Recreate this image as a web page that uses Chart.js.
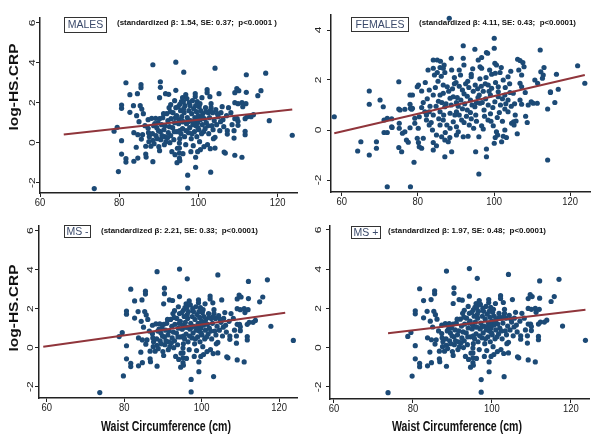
<!DOCTYPE html>
<html><head><meta charset="utf-8">
<script src="https://cdn.jsdelivr.net/npm/chart.js@4/dist/chart.umd.min.js"></script>
<style>
html,body{margin:0;padding:0;background:#fff;}
#wrap{position:relative;width:600px;height:446px;overflow:hidden;background:#fff;}
canvas{position:absolute;display:block;}
</style></head><body><div id="wrap">
<canvas id="c1" width="300" height="220" style="left:0;top:0"></canvas>
<canvas id="c2" width="300" height="220" style="left:300px;top:0"></canvas>
<canvas id="c3" width="300" height="226" style="left:0;top:220px"></canvas>
<canvas id="c4" width="300" height="226" style="left:300px;top:220px"></canvas>
</div>
<script>
// ---------------- DATA ----------------
const xTicks = [60, 80, 100, 120];
const yTicksA = [-2, 0, 2, 4, 6];
const yTicksF = [-2, 0, 2, 4];
const panelLabels = ['MALES', 'FEMALES', 'MS -', 'MS +'];
const statTexts = [
  '(standardized \u03b2: 1.54, SE: 0.37;  p<0.0001 )',
  '(standardized \u03b2: 4.11, SE: 0.43;  p<0.0001)',
  '(standardized \u03b2: 2.21, SE: 0.33;  p<0.0001)',
  '(standardized \u03b2: 1.97, SE: 0.48;  p<0.0001)'
];
const yTitle = 'log-HS.CRP';
const xTitle = 'Waist Circumference (cm)';

// waist (cm), log-HS.CRP  (males / MS- / MS+ panels share the same cloud)
const malesPoints = [
[73.7,-2.3],[79.8,-1.45],[79.5,0.77],[78.7,0.57],[80.6,0.1],[80.6,-0.57],[81.7,-0.8],[81.7,-0.97],[83.7,-0.93],[84.7,-0.77],[83.7,0.5],[84.7,0.4],[84.3,-0.23],[85.6,0.18],[85.9,0.4],[86.7,-0.18],[86.7,-0.57],[86.8,-0.72],[88,-0.18],[88.5,-0.95],[88.5,0.12],[90.2,-0.4],[90,-0.2],
[80.6,1.72],[80.6,1.88],[81.7,3.0],[82.7,2.4],[82.7,1.52],[83.6,1.85],[84.6,2.45],[84.4,1.35],[85.5,2.9],[85.5,2.75],[85.3,1.85],[85.7,1.68],[86.1,1.45],[88.5,3.9],[90.4,3.05],[90.4,2.77],[90.2,2.25],[91.7,2.45],[92.5,2.42],[94.3,4.03],[94.3,2.62],[96.3,3.53],[95.3,1.92],[95.7,2.05],[96,2.25],
[87.3,1.15],[87.3,0.72],[87.4,0.5],[87.6,0.3],[87.5,0.05],[88.2,1.22],[88.7,0.85],[88.4,0.45],[88.8,-0.05],[89.2,1.22],[89.5,0.75],[89.3,0.35],[89.8,1.0],[90.2,1.2],[90.4,0.55],[90.5,0.15],[90.7,0.9],[91,1.25],[91.3,0.65],[91.5,0.3],[91.8,0.05],[92,1.45],[92.3,1.1],[92.4,0.5],[92.7,0.8],[93,0.35],[93.1,1.2],[93.3,-0.45],[93.5,0.75],[93.6,1.5],[93.8,0.15],[94,1.0],[92.2,0.25],[91.2,1.45],[89.9,0.6],[93,1.9],[94,2.1],[92.6,1.75],[96.8,2.4],
[94.3,1.75],[94.5,1.35],[94.6,0.55],[94.7,-0.28],[94.6,-1.0],[94.9,1.8],[95,0.95],[95.1,1.15],[95.2,-0.52],[95.2,-0.77],[95.3,-0.9],[95.3,0.6],[95.5,1.6],[95.3,0.2],[95.2,-0.02],[95.2,-0.27],[95.8,1.3],[96,0.7],[96.2,1.05],[96.4,1.5],[96.5,0.3],[96.6,1.85],[96.8,-0.1],[97,0.95],[97.2,1.25],[97.3,-1.63],[97.3,-2.27],[97.5,0.5],[97.7,2.0],[97.6,1.6],[97.8,0.75],[98,1.1],[98.2,0.2],[98.3,1.45],[98.5,2.1],[98.6,0.9],[98.7,-0.15],[98.8,1.7],[99,0.55],[99.1,1.25],[99.2,2.45],[99.2,2.3],[99.3,-0.73],[99.3,-1.23],[99.4,0.85],[99.5,1.55],[99.6,0.3],[99.7,2.05],[99.8,1.0],[100,1.35],[100.1,0.65],[100.2,1.8],[100.3,0.05],[100.5,1.15],[100.6,1.6],[100.8,0.45],[101,0.9],[101.1,1.45],[101.4,-0.2],[101.5,1.2],[101.7,0.7],[101.8,1.75],[102,1.0],[102.2,2.65],[102.2,2.5],[102.3,-0.1],[102.5,1.5],[102.6,0.45],[102.8,1.25],[103.1,-1.48],[103.2,1.95],[103.2,1.75],[103.4,0.85],[103.6,1.5],[103.8,0.2],[104,1.1],[104.2,3.73],[104.2,0.27],[104.2,-0.27],[104.4,1.65],[104.6,0.9],[105,1.3],[105.2,2.45],[105.4,0.6],[105.7,1.5],[106,1.8],[106.2,1.15],[106.5,-0.47],[106.8,-0.52],[107.3,0.6],[107.3,0.43],[107.1,1.35],[100.5,-0.35],[103,-0.3],[99.8,-0.45],
[89,0.95],[90.8,0.35],[91.6,0.85],[92.9,1.55],[93.9,0.55],[94.2,1.25],[95.6,0.45],[95.9,1.05],[96.3,1.7],[96.9,0.6],[97.4,1.05],[97.9,1.85],[98.4,0.45],[98.9,1.05],[99.3,1.85],[99.6,1.15],[99.9,0.75],[100.4,1.95],[100.9,1.3],[101.3,0.55],[101.9,1.55],[102.4,0.85],[103,1.6],[103.7,0.65],[104.8,1.45],[105.6,1.05],[106.4,0.8],[107.6,1.75],[96.2,2.05],[97.1,2.2],[98.1,-0.45],[96.1,-0.55],[94.1,-0.6],[92.8,0.0],[91.4,-0.1],[89.6,0.2],[86.5,0.85],[85,1.05],[100.9,2.25],[102.9,2.3],
[109.2,2.5],[109.7,2.7],[110.2,2.6],[112.1,3.4],[112.1,2.52],[115.8,2.6],[115,2.35],[117,3.48],[109.2,2.0],[110,1.95],[111,2.0],[112,1.95],[109.2,1.2],[109.8,1.2],[110,1.07],[110,0.87],[109,0.6],[109,0.23],[109.2,-0.63],[111,-0.73],[111.8,0.57],[111.8,0.4],[112.3,1.3],[111.8,1.2],[113.3,1.3],[113.9,1.4],[117.9,1.1],[123.7,0.37],[108.2,1.5],[111.2,1.8],[108.5,0.9]
];

const femalesPoints = [
[58.06,0.53],[64.2,-0.84],[65.04,-0.47],[67.25,1.56],[67.25,1.03],[67.25,-1.0],[69.13,-0.47],[69.13,-0.73],[70.08,1.2],[70.92,0.93],[71.13,0.4],[71.13,-0.1],[71.97,-0.1],[71.97,0.47],[73.13,0.45],[73.13,0.13],[71.97,-2.27],[73.23,0.1],[75.0,1.93],[75.0,0.84],[75.12,0.27],[75.12,0.07],[75.96,-0.13],[76.59,-0.07],[75.0,-0.7],[75.75,-0.87],[77.01,-0.4],[77.48,-0.49],[77.95,0.09],[78.06,0.87],[78.58,0.87],[78.06,-2.27],[79.0,-1.29],[75.33,0.8],[76.59,0.83],[78.37,0.83],[77.95,1.03],[77.95,1.4],[78.58,1.4],[79.85,1.73],[80.16,1.8],[81.0,1.56],[79.2,0.47],[80.37,0.53],[79.2,0.27],[80.11,0.07],[79.85,-0.33],[80.16,-0.5],[80.37,-0.67],[81.0,-0.73],[81.42,-0.33],[81.42,1.1],[81.84,0.73],
[82.26,0.4],[82.99,0.2],[83.84,0.0],[84.89,-0.2],[84.05,-0.5],[84.89,-0.63],[84.05,-0.8],[86.25,-0.27],[87.09,-0.4],[87.98,-0.47],[87.09,-1.07],[88.88,-0.87],[90.14,-0.2],[90.61,-0.07],[85.83,0.2],[86.67,0.4],[87.62,0.2],[88.46,0.07],[89.3,0.33],[90.14,0.13],[82.26,0.6],[82.99,0.73],[84.05,0.6],[85.83,0.73],[86.78,0.6],[88.46,0.67],[90.14,0.73],[89.72,0.6],[83.2,0.95],[84.78,0.95],[87.09,0.93],[88.77,1.0],[90.14,1.1],[84.05,1.4],[85.83,1.4],[86.67,1.47],[88.46,1.27],[89.3,1.33],[86.67,1.8],[87.72,1.73],[84.05,2.8],[85.1,2.8],[85.94,2.75],[82.68,2.4],[84.05,2.47],[85.83,2.5],[86.67,2.47],[84.36,2.2],[85.1,2.3],[86.15,2.15],[87.09,2.3],[88.88,2.4],[88.25,4.47],[88.77,2.87],[90.87,2.4],[85.41,1.15],[82.47,1.25],[81.95,1.9],[81.0,0.9],
[91.92,3.37],[91.92,2.87],[94.97,3.23],[98.01,3.1],[96.75,2.9],[95.86,2.8],[100.06,3.67],[100.06,3.27],[98.33,3.07],[94.02,2.23],[94.02,2.13],[96.33,2.53],[96.75,2.47],[98.85,2.4],[99.38,2.23],[100.22,2.67],[100.64,2.6],[100.32,2.27],
[90.03,1.9],[90.87,1.75],[91.71,1.6],[92.13,1.45],[92.97,1.35],[93.81,1.2],[90.35,1.3],[91.29,1.2],[92.55,1.85],[93.39,1.7],[94.55,1.55],[95.07,1.8],[95.7,1.65],[96.12,1.4],[94.23,1.0],[95.39,1.1],[96.33,1.07],[94.97,0.93],[96.65,1.75],[97.17,1.55],[97.7,1.85],[98.48,1.8],[99.38,1.67],[101.11,1.73],[101.11,1.53],[101.11,1.33],[98.48,1.0],[100.22,1.13],[97.8,1.25],[99.06,1.4],[97.38,0.8],
[90.87,0.6],[91.5,0.4],[92.13,0.3],[92.76,0.55],[93.5,0.2],[94.02,0.45],[94.65,0.07],[95.39,0.35],[91.71,0.85],[92.97,0.8],[91.92,-0.27],[93.18,-0.25],[96.02,-0.27],[95.18,-0.87],[96.02,-1.76],[96.75,0.17],[97.17,0.04],[98.01,-0.76],[98.01,-1.07],[98.43,0.4],[99.06,0.65],[99.8,0.17],[100.64,-0.07],[100.06,-0.53],[100.32,-0.3],[100.95,-0.2],[99.69,0.9],[100.85,0.5],
[83,1.6],[84.6,1.7],[85.3,1.95],[86.3,1.1],[87.4,1.05],[88.1,1.55],[89.1,1.65],[89.6,2.1],[90.6,0.95],[91.2,2.2],[92.3,1.05],[93.1,1.95],[93.8,0.7],[94.4,2.45],[95.2,0.6],[95.8,1.3],[96.3,2.05],[96.9,1.1],[97.5,0.55],[97.9,2.1],[98.7,1.55],[99.2,0.35],[100.4,1.9],[101.4,0.7],[103.1,1.05],[104.4,2.35],[105.4,1.05],[106.5,2.4],[85.5,0.45],[87.2,-0.1],[88.4,-0.3],[89.6,1.85],[83.5,0.3],[86.9,2.6],[92.1,2.6],
[102.0,-0.47],[102.42,-0.25],[102.84,0.0],[103.68,0.73],[102.84,0.84],[104.63,0.27],[105.15,0.33],[105.78,0.36],[105.26,0.2],[101.69,1.0],[102.21,1.25],[102.84,1.4],[103.68,1.2],[104.2,1.5],[105.05,1.47],[102.95,1.7],[104.1,1.85],[101.58,2.3],[102.42,2.0],[103.68,2.13],[101.9,2.5],[106.2,2.83],[106.83,2.78],[107.57,2.7],[107.88,2.53],[107.25,2.2],[106.83,1.87],[107.25,1.73],[106.83,1.2],[107.25,1.03],[108.2,1.5],[108.98,1.0],[109.77,1.13],[110.3,1.07],[110.72,2.0],[111.45,1.87],[112.13,3.2],[112.29,2.33],[112.92,2.2],[112.71,2.07],[113.13,2.5],[114.08,0.84],[114.08,-1.2],[114.81,1.5],[115.97,1.1],[116.39,2.23],[121.95,2.57],[123.84,1.87],[105.57,0.6],[104.52,0.95],[108.72,0.3],[108.3,0.55],[102.21,0.35],[106.1,-0.15],[103.26,-0.3],[111.35,1.07],[116.86,1.63],[114.81,1.53]
];

const malesFit = [[66, 0.41], [123.7, 1.66]];
const femalesFit = [[58.06, -0.13], [123.84, 2.2]];
const msMinusFit = [[59.1, 0.05], [121.6, 1.79]];
const msPlusFit = [[73.7, 0.73], [123.7, 1.93]];

// ---------------- LAYOUT / STYLE ----------------
const FONT = '"Liberation Sans", Arial, Helvetica, sans-serif';
const DOT = '#1c4a76';
const FIT = '#90353b';
const AXIS = '#222222';

const panels = [
  {id:'c1', padT:18, padR:2, yW:40, xH:27, xMin:60, xMax:125, yMin:-2.52, yMax:6.24,
   yTicks:yTicksA, points:malesPoints, fit:malesFit, label:panelLabels[0], stat:statTexts[0],
   box:[64,17,43,16], statPos:[117,23,160], yTickOff:8, xTickOff:10, yTitlePos:[14,87], xTitlePos:null},
  {id:'c2', padT:15, padR:10, yW:31, xH:28, xMin:57.2, xMax:125.2, yMin:-2.48, yMax:4.6,
   yTicks:yTicksF, points:femalesPoints, fit:femalesFit, label:panelLabels[1], stat:statTexts[1],
   box:[51,17,58,15], statPos:[119,23,157], yTickOff:13, xTickOff:10, yTitlePos:null, xTitlePos:null},
  {id:'c3', padT:6, padR:2, yW:39, xH:48, xMin:58.0, xMax:124.75, yMin:-2.58, yMax:6.24,
   yTicks:yTicksA, points:malesPoints, fit:msMinusFit, label:panelLabels[2], stat:statTexts[2],
   box:[64,5,27,13], statPos:[101,11,157], yTickOff:9, xTickOff:10, yTitlePos:[14,88], xTitlePos:[166,207]},
  {id:'c4', padT:6, padR:11, yW:30, xH:47, xMin:59.0, xMax:124.6, yMin:-2.62, yMax:6.2,
   yTicks:yTicksA, points:malesPoints, fit:msPlusFit, label:panelLabels[3], stat:statTexts[3],
   box:[51,6,30,13], statPos:[88,11,158], yTickOff:12, xTickOff:10, yTitlePos:null, xTitlePos:[157,207]}
];

function drawTxt(ctx, s, x, y, font, color, o) {
  o = o || {};
  ctx.save();
  ctx.font = font;
  ctx.fillStyle = color;
  ctx.textBaseline = 'middle';
  ctx.textAlign = o.align || 'center';
  const m = ctx.measureText(s).width;
  let sx = o.sx || 1;
  if (o.width) sx = o.width / m;
  ctx.translate(x, y);
  if (o.rot) ctx.rotate(o.rot);
  ctx.scale(sx, o.sy || 1);
  ctx.fillText(s, 0, 0);
  ctx.restore();
}

function textPlugin(p) {
  return {
    id: 'txt_' + p.id,
    beforeDatasetsDraw(chart) {
      const ctx = chart.ctx;
      const ca = chart.chartArea;
      const xs = chart.scales.x, ys = chart.scales.y;
      xTicks.forEach(v => {
        drawTxt(ctx, String(v), xs.getPixelForValue(v), ca.bottom + p.xTickOff,
          '11.5px ' + FONT, AXIS, {sx: 0.82});
      });
      p.yTicks.forEach(v => {
        drawTxt(ctx, String(v), ca.left - p.yTickOff, ys.getPixelForValue(v),
          '12px ' + FONT, AXIS, {rot: -Math.PI / 2, sy: 0.78});
      });
      if (p.yTitlePos) {
        drawTxt(ctx, yTitle, p.yTitlePos[0], p.yTitlePos[1], 'bold 14px ' + FONT, '#111',
          {rot: -Math.PI / 2, width: 87, sy: 0.92});
      }
      if (p.xTitlePos) {
        drawTxt(ctx, xTitle, p.xTitlePos[0], p.xTitlePos[1], 'bold 14px ' + FONT, '#111',
          {width: 130});
      }
      const b = p.box;
      ctx.save();
      ctx.fillStyle = '#ffffff';
      ctx.fillRect(b[0], b[1], b[2], b[3]);
      ctx.strokeStyle = '#333333';
      ctx.lineWidth = 1;
      ctx.strokeRect(b[0] + 0.5, b[1] + 0.5, b[2] - 1, b[3] - 1);
      ctx.restore();
      drawTxt(ctx, p.label, b[0] + b[2] / 2, b[1] + b[3] / 2 + 0.5, '10.5px ' + FONT, '#3b4a6b');
      drawTxt(ctx, p.stat, p.statPos[0], p.statPos[1], 'bold 7.5px ' + FONT, '#111',
        {align: 'left', width: p.statPos[2]});
    }
  };
}

panels.forEach(p => {
  const ctx = document.getElementById(p.id).getContext('2d');
  new Chart(ctx, {
    type: 'scatter',
    data: {
      datasets: [
        {
          type: 'line',
          data: p.fit.map(d => ({x: d[0], y: d[1]})),
          borderColor: FIT,
          borderWidth: 2,
          pointRadius: 0,
          fill: false,
          tension: 0,
          clip: false
        },
        {
          data: p.points.map(d => ({x: d[0], y: d[1]})),
          backgroundColor: DOT,
          borderWidth: 0,
          pointRadius: 2.6,
          pointHoverRadius: 2.6,
          clip: false
        }
      ]
    },
    options: {
      responsive: false,
      devicePixelRatio: 1,
      animation: false,
      events: [],
      layout: {padding: {top: p.padT, right: p.padR, left: 0, bottom: 0}},
      plugins: {legend: {display: false}, tooltip: {enabled: false}, title: {display: false}},
      scales: {
        x: {
          type: 'linear',
          min: p.xMin, max: p.xMax,
          afterBuildTicks: s => { s.ticks = xTicks.map(v => ({value: v})); },
          afterFit: s => { s.height = p.xH; },
          ticks: {display: false},
          grid: {display: true, drawOnChartArea: false, drawTicks: true, tickLength: 4, color: AXIS, lineWidth: 1},
          border: {display: true, color: AXIS, width: 1.5}
        },
        y: {
          type: 'linear',
          min: p.yMin, max: p.yMax,
          afterBuildTicks: s => { s.ticks = p.yTicks.map(v => ({value: v})); },
          afterFit: s => { s.width = p.yW; },
          ticks: {display: false},
          grid: {display: true, drawOnChartArea: false, drawTicks: true, tickLength: 4, color: AXIS, lineWidth: 1},
          border: {display: true, color: AXIS, width: 1.5}
        }
      }
    },
    plugins: [textPlugin(p)]
  });
});
</script>
</body></html>
